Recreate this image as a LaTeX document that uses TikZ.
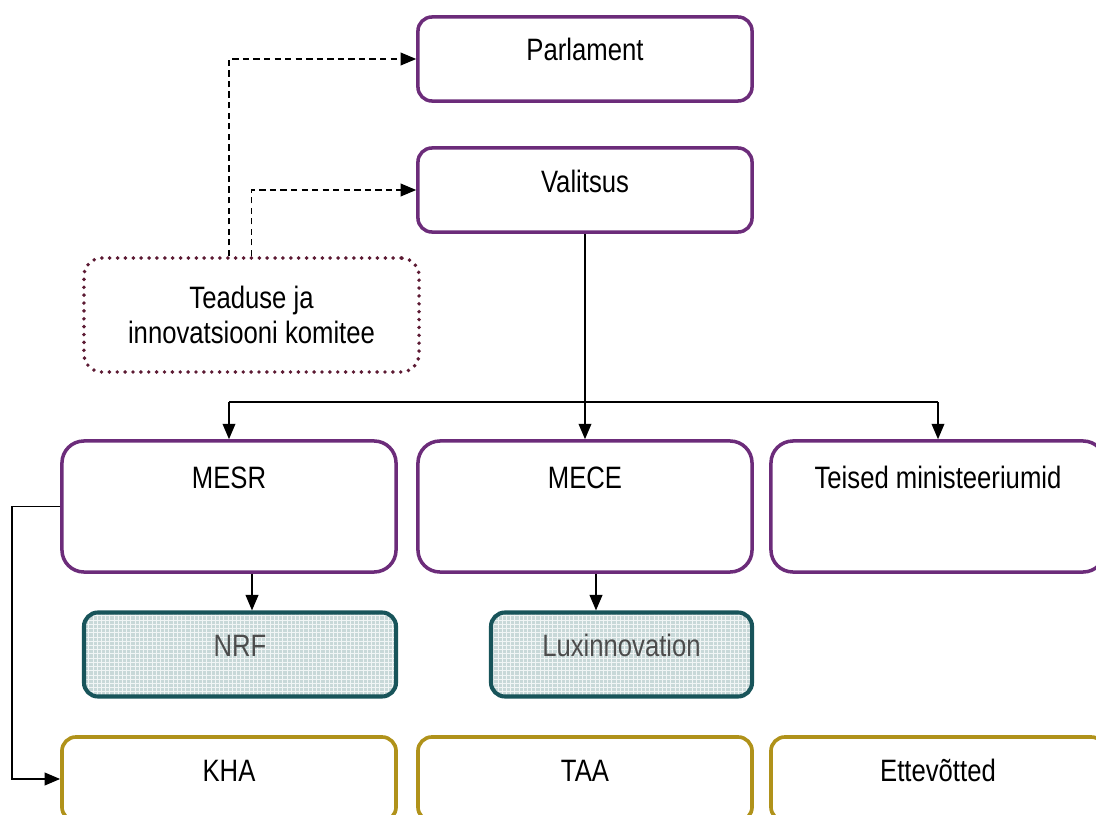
\documentclass[tikz,border=0pt]{standalone}
\usepackage{fontspec}
\setmainfont{Liberation Sans}[FakeStretch=0.83]
\usetikzlibrary{arrows.meta,patterns}
\definecolor{lilla}{RGB}{108,44,122}
\definecolor{petrol}{RGB}{24,84,90}
\definecolor{kuld}{RGB}{176,146,26}
\definecolor{bordoo}{RGB}{92,26,51}
\definecolor{hall}{RGB}{200,216,216}
\begin{document}
\begin{tikzpicture}[x=0.025cm,y=-0.025cm,
    every node/.style={font=\fontsize{22pt}{24.5pt}\selectfont, inner ysep=0pt},
    lyhike/.style={rounded corners=0.35cm, minimum width=8.35cm, text height=1.1cm, text depth=1cm},
    pikk/.style={rounded corners=0.55cm, minimum width=8.35cm, text height=1.175cm, text depth=2.1cm},
    riik/.style={draw=lilla, line width=2.5pt},
    agentuur/.style={draw=petrol, line width=2.9pt, preaction={fill=hall}, pattern=grid, pattern color=white!75!hall, text=black!70},
    teostaja/.style={lyhike, draw=kuld, line width=2.6pt},
    arr/.style={-{Triangle[length=11pt,width=9pt]}, line width=1.3pt},
    kriips/.style={-{Triangle[length=11pt,width=9pt]}, line width=1pt, dash pattern=on 4.5pt off 3pt}]
\useasboundingbox (0,0) rectangle (1096,814);
\clip (0,0) rectangle (1096,814);

\node[riik, lyhike] (parl) at (585,59) {Parlament};
\node[riik, lyhike] (val) at (585,190) {Valitsus};
\node[draw=bordoo, line width=2.8pt, dash pattern=on 0pt off 5.6pt, line cap=round,
    rounded corners=0.45cm, minimum width=8.375cm, minimum height=2.85cm, align=center]
    (kom) at (251.5,315) {Teaduse ja\\innovatsiooni komitee};

\node[riik, pikk] (mesr) at (229,506.5) {MESR};
\node[riik, pikk] (mece) at (585,506.5) {MECE};
\node[riik, pikk] (teised) at (938,506.5) {Teised ministeeriumid};

\node[agentuur, lyhike, minimum width=7.8cm] (nrf) at (240,654.5) {NRF};
\node[agentuur, lyhike, minimum width=6.525cm] (lux) at (621.5,654.5) {Luxinnovation};

\node[teostaja] (kha) at (229,779) {KHA};
\node[teostaja] (taa) at (585,779) {TAA};
\node[teostaja] (ette) at (938,779) {Ettev\~otted};

% komitee nõustab
\draw[kriips] (kom.north -| mesr) |- (parl.west);
\draw[kriips] (kom.north) |- (val.west);

\coordinate (jaotus) at (585,402);
\draw[arr] (val.south) -- (mece.north);
\draw[line width=1.3pt] (jaotus -| mesr) -- (jaotus -| teised);
\draw[arr] (jaotus -| mesr) -- (mesr.north);
\draw[arr] (jaotus -| teised) -- (teised.north);

\draw[arr] ([xshift=0.575cm]mesr.south) coordinate (m1) -- (m1 |- nrf.north);
\draw[arr] ([xshift=0.275cm]mece.south) coordinate (m2) -- (m2 |- lux.north);
\draw[arr] (mesr.west) -- ++(-48,0) |- (kha.west);

\end{tikzpicture}
\end{document}
